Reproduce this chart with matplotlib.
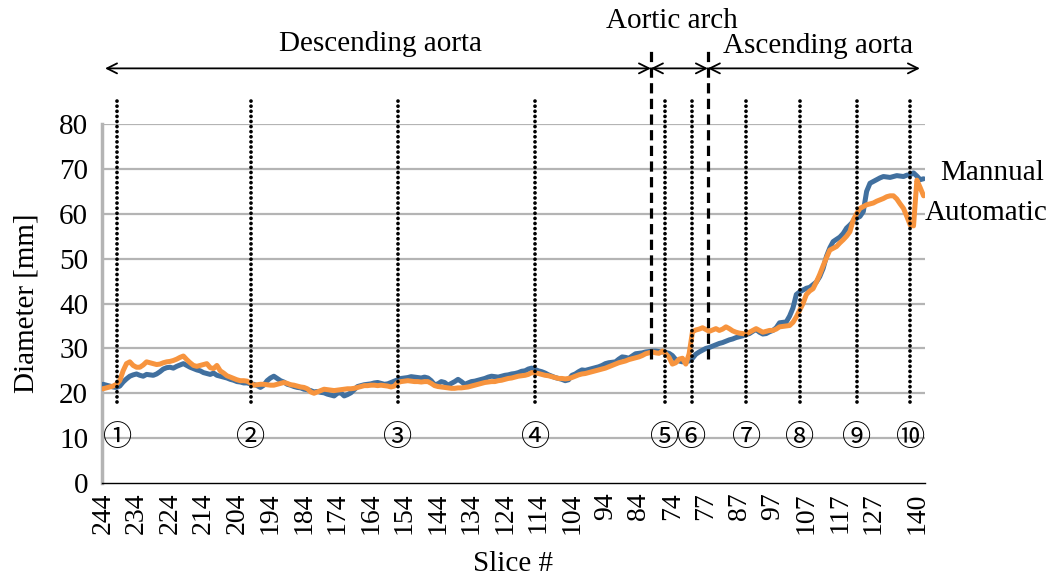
import matplotlib.pyplot as plt

# slice labels on the x axis (every 10 categories, plus the last one)
tick_labels = ['244', '234', '224', '214', '204', '194', '184', '174', '164',
               '154', '144', '134', '124', '114', '104', '94', '84', '74',
               '77', '87', '97', '107', '117', '127', '140']
tick_pos = [0, 10, 20, 30, 40, 50, 60, 70, 80, 90, 100, 110, 120, 130, 140,
            150, 160, 170, 180, 190, 200, 210, 220, 230, 243]

# diameter [mm], one value per slice (category index 0..245)
manual = [
    22.0, 21.8, 21.6, 21.4, 21.3, 21.6, 22.5, 23.2, 23.8, 24.1,
    24.3, 24.0, 23.8, 24.2, 24.1, 24.0, 24.3, 24.8, 25.4, 25.7,
    25.8, 25.6, 26.0, 26.3, 26.6, 26.2, 25.8, 25.5, 25.2, 25.0,
    24.6, 24.4, 24.2, 24.5, 24.0, 23.8, 23.6, 23.4, 23.1, 22.9,
    22.6, 22.5, 22.3, 22.3, 22.1, 22.0, 21.7, 21.3, 21.8, 22.8,
    23.4, 23.8, 23.3, 22.8, 22.5, 22.0, 21.8, 21.5, 21.3, 21.2,
    20.9, 20.8, 20.6, 20.3, 20.4, 20.2, 20.1, 19.8, 19.6, 19.4,
    20.0, 20.1, 19.4, 19.7, 20.1, 20.8, 21.5, 21.7, 21.9, 22.0,
    22.1, 22.3, 22.4, 22.2, 22.0, 22.1, 22.4, 22.7, 23.0, 23.3,
    23.4, 23.5, 23.7, 23.6, 23.5, 23.4, 23.6, 23.4, 22.8, 21.9,
    22.1, 22.6, 22.4, 21.8, 22.2, 22.6, 23.1, 22.6, 22.0, 22.3,
    22.6, 22.7, 22.9, 23.1, 23.3, 23.6, 23.8, 23.7, 23.6, 23.8,
    24.0, 24.1, 24.3, 24.4, 24.6, 24.9, 25.0, 25.4, 25.6, 25.3,
    25.0, 24.8, 24.5, 24.1, 23.8, 23.5, 23.3, 23.1, 22.8, 23.0,
    24.0, 24.3, 24.8, 25.2, 25.1, 25.3, 25.5, 25.7, 25.9, 26.2,
    26.6, 26.8, 26.9, 27.0, 27.6, 28.1, 28.0, 27.8, 28.3, 28.8,
    28.9, 29.0, 29.2, 29.3, 29.4, 29.4, 29.3, 29.2, 29.1, 28.9,
    28.4, 27.5, 27.2, 27.0, 27.1, 27.2, 27.8, 28.7, 29.2, 29.6,
    30.0, 30.2, 30.5, 30.8, 31.1, 31.3, 31.6, 31.9, 32.1, 32.4,
    32.6, 32.8, 33.1, 33.3, 33.8, 34.2, 33.6, 33.2, 33.3, 33.7,
    34.0, 34.6, 35.7, 35.8, 35.9, 37.2, 39.0, 42.0, 42.6, 43.0,
    43.4, 43.6, 44.2, 44.8, 46.0, 47.8, 50.5, 52.4, 53.8, 54.3,
    54.8, 55.6, 56.8, 57.5, 58.3, 59.0, 59.4, 60.5, 65.0, 66.8,
    67.2, 67.6, 68.0, 68.3, 68.2, 68.1, 68.3, 68.5, 68.4, 68.3,
    68.6, 68.7, 69.1, 68.4, 67.6, 67.8,
]
automatic = [
    21.0, 21.2, 21.4, 21.6, 22.0, 22.8, 25.0, 26.6, 27.0, 26.2,
    25.8, 25.8, 26.3, 27.0, 26.8, 26.6, 26.4, 26.5, 26.8, 27.0,
    27.1, 27.3, 27.6, 28.0, 28.3, 27.5, 26.8, 26.2, 26.0, 26.2,
    26.4, 26.6, 25.7, 25.5, 26.2, 25.0, 24.5, 23.9, 23.6, 23.3,
    23.0, 22.8, 22.8, 22.7, 22.3, 21.8, 21.9, 22.0, 22.0, 21.9,
    21.8, 21.8, 22.0, 22.2, 22.4, 22.2, 21.9, 21.8, 21.6, 21.4,
    21.3, 21.0, 20.3, 20.0, 20.3, 20.6, 20.9, 20.8, 20.7, 20.6,
    20.7, 20.8, 20.9, 21.0, 21.0, 21.1, 21.3, 21.5, 21.7, 21.7,
    21.8, 21.8, 21.7, 21.8, 21.7, 21.6, 21.4, 21.6, 22.4, 22.6,
    22.7, 22.8, 22.7, 22.6, 22.6, 22.5, 22.6, 22.6, 22.2, 21.7,
    21.5, 21.4, 21.3, 21.2, 21.1, 21.1, 21.2, 21.2, 21.3, 21.4,
    21.6, 21.8, 22.0, 22.2, 22.4, 22.5, 22.6, 22.6, 22.8, 22.9,
    23.1, 23.3, 23.4, 23.6, 23.8, 23.9, 24.0, 24.2, 24.6, 24.5,
    24.4, 24.2, 24.0, 23.9, 23.7, 23.5, 23.3, 23.3, 23.2, 23.3,
    23.5, 23.8, 24.1, 24.3, 24.4, 24.6, 24.8, 25.0, 25.2, 25.4,
    25.6, 25.9, 26.2, 26.5, 26.8, 27.0, 27.2, 27.5, 27.7, 27.9,
    28.1, 28.4, 28.8, 29.0, 29.2, 29.0, 28.9, 29.4, 28.8, 28.0,
    26.5, 26.8, 27.6, 27.8, 26.5, 28.8, 33.7, 34.1, 34.3, 34.6,
    34.2, 33.8, 34.1, 34.4, 34.0, 34.3, 34.8, 34.4, 33.9, 33.6,
    33.4, 33.3, 33.2, 33.6, 34.0, 34.4, 34.0, 33.6, 33.8, 34.0,
    34.0, 34.3, 34.8, 34.9, 35.0, 35.1, 35.8, 37.0, 38.5, 40.0,
    42.0, 42.8, 43.3, 44.8, 46.5, 48.4, 50.2, 51.9, 52.3, 52.7,
    53.5, 54.2, 55.0, 56.0, 58.6, 60.0, 61.2, 61.6, 62.0, 62.2,
    62.4, 62.8, 63.1, 63.4, 63.8, 64.0, 64.0, 63.3, 62.2, 61.2,
    59.4, 57.5, 57.3, 67.5, 65.8, 64.0,
]

# measurement landmarks (category index) and the aortic arch limits
landmark_pos = [4.2, 44.2, 88, 129, 167.8, 175.8, 192, 208, 225, 241]
landmark_labels = ['①', '②', '③', '④', '⑤', '⑥', '⑦', '⑧', '⑨', '⑩']
arch_start = 163.6
arch_end = 180.6

plt.rcParams['font.family'] = ['Liberation Serif', 'DejaVu Serif']

fig = plt.figure(figsize=(10.55, 5.79), dpi=100)
ax = fig.add_axes([0.0967, 0.1658, 0.780, 0.620])

x = list(range(len(manual)))

# grid
for v in range(10, 81, 10):
    ax.axhline(v, color='#b4b4b4', lw=1.6, zorder=1)

# curves
ax.plot(x, manual, color='#41709f', lw=3.6, zorder=3, solid_capstyle='round',
        solid_joinstyle='round')
ax.plot(x, automatic, color='#f7943e', lw=3.6, zorder=4, solid_capstyle='round',
        solid_joinstyle='round')

# dotted landmark lines + circled numbers
for p, lab in zip(landmark_pos, landmark_labels):
    ax.plot([p, p], [18, 86], color='black', lw=2.7,
            linestyle=(0, (0.01, 1.35)), dash_capstyle='round',
            clip_on=False, zorder=5)
    ax.text(p, 10, lab, ha='center', va='center', fontsize=21,
            family=['Noto Sans CJK JP', 'DejaVu Sans'], zorder=6)

# dashed arch borders
for p in [arch_start, arch_end]:
    ax.plot([p, p], [27.6, 96.7], color='black', lw=2.3,
            linestyle=(0, (3.2, 1.7)), clip_on=False, zorder=5)

# region arrows on top
arrow_y = 92.4
for a, b in [(0.6, arch_start), (arch_start, arch_end), (arch_end, 243.9)]:
    ax.annotate('', xy=(b, arrow_y), xytext=(a, arrow_y),
                arrowprops=dict(arrowstyle='<->', color='black', lw=1.3,
                                shrinkA=0, shrinkB=0, mutation_scale=18),
                annotation_clip=False)

ax.text(82.7, 97.8, 'Descending aorta', ha='center', va='center', fontsize=21)
ax.text(169.9, 102.9, 'Aortic arch', ha='center', va='center', fontsize=21)
ax.text(213.4, 97.3, 'Ascending aorta', ha='center', va='center', fontsize=21)

# series labels at the line ends
ax.text(249.9, 69.1, 'Mannual', ha='left', va='center', fontsize=21)
ax.text(245.4, 60.2, 'Automatic', ha='left', va='center', fontsize=21)

# axes styling
ax.set_xlim(-0.3, 245.4)
ax.set_ylim(0, 80)
ax.set_yticks(range(0, 81, 10))
ax.set_xticks(tick_pos)
ax.set_xticklabels(tick_labels, rotation=90)
ax.tick_params(axis='x', length=0, pad=7, labelsize=20)
ax.tick_params(axis='y', length=0, pad=10, labelsize=21)

for s in ['top', 'right']:
    ax.spines[s].set_visible(False)
ax.spines['left'].set_color('#b4b4b4')
ax.spines['left'].set_linewidth(2.5)
ax.spines['bottom'].set_color('black')
ax.spines['bottom'].set_linewidth(1.0)

ax.set_xlabel('Slice #', fontsize=21, labelpad=12)
ax.set_ylabel('Diameter [mm]', fontsize=21, labelpad=14)

fig.savefig('out.png', dpi=100)
